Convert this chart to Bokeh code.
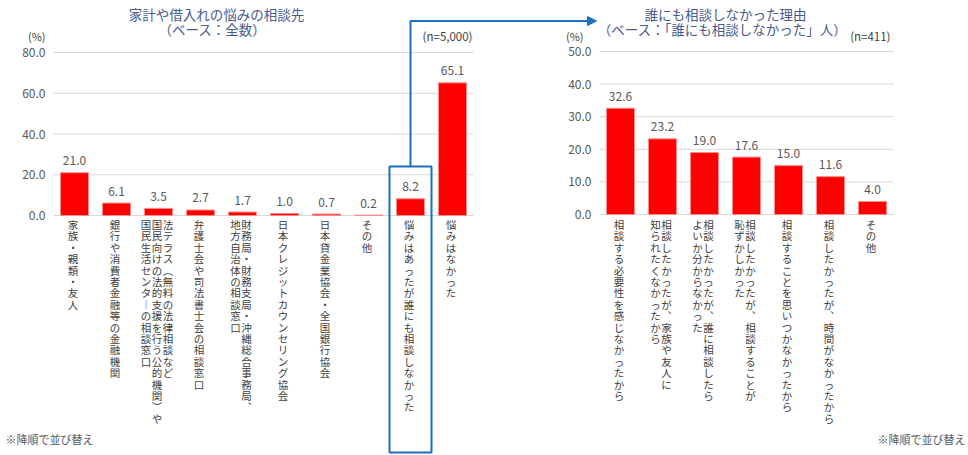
from bokeh.plotting import figure
from bokeh.models import ColumnDataSource, Range1d, Arrow, NormalHead
from bokeh.embed import file_html
from bokeh.resources import INLINE
from bokeh.core.properties import value

# ---------------- data ----------------
left_title = ["家計や借入れの悩みの相談先", "（ベース：全数）"]
left_n = "(n=5,000)"
left_categories = [
    "家族・親類・友人",
    "銀行や消費者金融等の金融機関",
    "法テラス（無料の法律相談など\n国民向けの法的支援を行う公的機関）や\n国民生活センターの相談窓口",
    "弁護士会や司法書士会の相談窓口",
    "財務局・財務支局・沖縄総合事務局、\n地方自治体の相談窓口",
    "日本クレジットカウンセリング協会",
    "日本貸金業協会・全国銀行協会",
    "その他",
    "悩みはあったが誰にも相談しなかった",
    "悩みはなかった",
]
left_values = [21.0, 6.1, 3.5, 2.7, 1.7, 1.0, 0.7, 0.2, 8.2, 65.1]
left_ticks = [0, 20, 40, 60, 80]
left_tick_labels = ["0.0", "20.0", "40.0", "60.0", "80.0"]
highlight_index = 8

right_title = ["誰にも相談しなかった理由", "（ベース：「誰にも相談しなかった」人）"]
right_n = "(n=411)"
right_categories = [
    "相談する必要性を感じなかったから",
    "相談したかったが、家族や友人に\n知られたくなかったから",
    "相談したかったが、誰に相談したら\nよいか分からなかった",
    "相談したかったが、相談することが\n恥ずかしかった",
    "相談することを思いつかなかったから",
    "相談したかったが、時間がなかったから",
    "その他",
]
right_values = [32.6, 23.2, 19.0, 17.6, 15.0, 11.6, 4.0]
right_ticks = [0, 10, 20, 30, 40, 50]
right_tick_labels = ["0.0", "10.0", "20.0", "30.0", "40.0", "50.0"]

unit_label = "(%)"
note_text = "※降順で並び替え"

# ---------------- style / layout ----------------
FONT = "Noto Sans CJK JP"
RED = "#ff0000"
EDGE = "#ff8c8c"
GRID = "#d9d9d9"
TICK_COLOR = "#595959"
LABEL_COLOR = "#404040"
TITLE_COLOR = "#4a5a8c"
BLUE = "#1a6fc4"

W, H = 968, 455
PAGE_X0, PAGE_Y0 = 0, 0
BAND = 42.0           # px per category
BAR_W = 28.0          # px bar width
CHAR_STEP = 11.4      # px per vertical character
COL_STEP = 11.0       # px between label columns

# left chart geometry (page pixels)
L_C0, L_ZERO, L_SCALE = 74.0, 215.0, 2.0375
# right chart geometry (page pixels)
R_C0, R_ZERO, R_SCALE = 620.0, 214.0, 3.26


def lx(px): return (px - L_C0) / BAND
def ly(py): return (L_ZERO - py) / L_SCALE
def rx(px): return (px - R_C0) / BAND
def ry(py): return (R_ZERO - py) / R_SCALE


VERT = {"（": "︵", "）": "︶", "、": "︑", "ー": "︱", "「": "﹁", "」": "﹂"}

p = figure(width=W, height=H, output_backend="svg", toolbar_location=None,
           x_axis_type=None, y_axis_type=None, min_border=0,
           x_range=Range1d(lx(PAGE_X0), lx(PAGE_X0 + W)),
           y_range=Range1d(ly(PAGE_Y0 + H), ly(PAGE_Y0)))
p.extra_x_ranges = {"rx": Range1d(rx(PAGE_X0), rx(PAGE_X0 + W))}
p.extra_y_ranges = {"ry": Range1d(ry(PAGE_Y0 + H), ry(PAGE_Y0))}
p.outline_line_color = None
p.background_fill_color = "white"
p.border_fill_color = "white"


def draw_chart(cats, vals, ticks, tick_labels, scale, label_top, xr, yr):
    n = len(vals)
    kw = dict(x_range_name=xr, y_range_name=yr)
    # grid lines
    p.segment(x0=[-0.5] * len(ticks), x1=[n - 0.5] * len(ticks), y0=ticks, y1=ticks,
              line_color=GRID, line_width=1, **kw)
    # tick labels
    p.text(x=[-0.5] * len(ticks), y=ticks, text=tick_labels, x_offset=-8,
           text_align="right", text_baseline="middle", text_font=value(FONT),
           text_font_size="12px", text_color=TICK_COLOR, **kw)
    # bars
    src = ColumnDataSource(dict(
        x=list(range(n)), top=vals,
        lab=[f"{v:.1f}" for v in vals],
        lab_y=[v + 12.0 / scale for v in vals]))
    p.vbar(x="x", top="top", bottom=0, width=BAR_W / BAND, fill_color=RED,
           line_color=EDGE, line_width=1, source=src, **kw)
    p.text(x="x", y="lab_y", text="lab", source=src, text_align="center",
           text_baseline="middle", text_font=value(FONT), text_font_size="12px",
           text_color=TICK_COLOR, **kw)
    # vertical category labels
    xs, ys, chars = [], [], []
    for i, cat in enumerate(cats):
        cols = cat.split("\n")
        m = len(cols)
        for c, col in enumerate(cols):
            cx = i + (((m - 1) / 2.0 - c) * COL_STEP - 1.5) / BAND
            for k, ch in enumerate(col):
                xs.append(cx)
                ys.append(-(label_top + k * CHAR_STEP) / scale)
                chars.append(VERT.get(ch, ch))
    p.text(x=xs, y=ys, text=chars, text_align="center", text_baseline="middle",
           text_font=value(FONT), text_font_size="10.5px", text_color=LABEL_COLOR, **kw)


draw_chart(left_categories, left_values, left_ticks, left_tick_labels,
           L_SCALE, 9.0, "default", "default")
draw_chart(right_categories, right_values, right_ticks, right_tick_labels,
           R_SCALE, 10.0, "rx", "ry")

txt = dict(text_font=value(FONT), text_baseline="middle")

# titles
p.text(x=[lx(216), lx(212)], y=[ly(13), ly(28.5)], text=left_title, text_align="center",
       text_font_size="13.5px", text_color=TITLE_COLOR, **txt)
p.text(x=[rx(725), rx(722)], y=[ry(13), ry(28.5)], text=right_title, text_align="center",
       text_font_size="13.5px", text_color=TITLE_COLOR, x_range_name="rx", y_range_name="ry", **txt)

# unit labels and n labels
p.text(x=[-0.5], y=[ly(35)], text=[unit_label], x_offset=-8, text_align="right",
       text_font_size="11px", text_color=LABEL_COLOR, **txt)
p.text(x=[-0.5], y=[ry(35)], text=[unit_label], x_offset=-16, text_align="right",
       text_font_size="11px", text_color=LABEL_COLOR, x_range_name="rx", y_range_name="ry", **txt)
p.text(x=[len(left_values) - 0.5], y=[ly(35)], text=[left_n], x_offset=-1, text_align="right",
       text_font_size="11.5px", text_color=LABEL_COLOR, **txt)
p.text(x=[len(right_values) - 0.5], y=[ry(35)], text=[right_n], x_offset=-3, text_align="right",
       text_font_size="11.5px", text_color=LABEL_COLOR, x_range_name="rx", y_range_name="ry", **txt)

# notes
p.text(x=[lx(5)], y=[ly(438)], text=[note_text], text_align="left",
       text_font_size="11px", text_color=TICK_COLOR, **txt)
p.text(x=[lx(965)], y=[ly(438)], text=[note_text], text_align="right",
       text_font_size="11px", text_color=TICK_COLOR, **txt)

# highlight box and arrow
hb_top, hb_bottom, arrow_y = ly(166), ly(452), ly(20.5)
p.quad(left=[highlight_index - 0.5], right=[highlight_index + 0.5], top=[hb_top], bottom=[hb_bottom],
       fill_color=None, line_color=BLUE, line_width=2)
p.line(x=[highlight_index, highlight_index, lx(588)], y=[hb_top, arrow_y, arrow_y],
       line_color=BLUE, line_width=2)
p.add_layout(Arrow(x_start=lx(586), y_start=arrow_y, x_end=lx(596), y_end=arrow_y,
                   line_color=BLUE, line_width=2,
                   end=NormalHead(size=9, fill_color=BLUE, line_color=BLUE, line_width=1)))

open("out.html", "w").write(file_html(p, INLINE))
